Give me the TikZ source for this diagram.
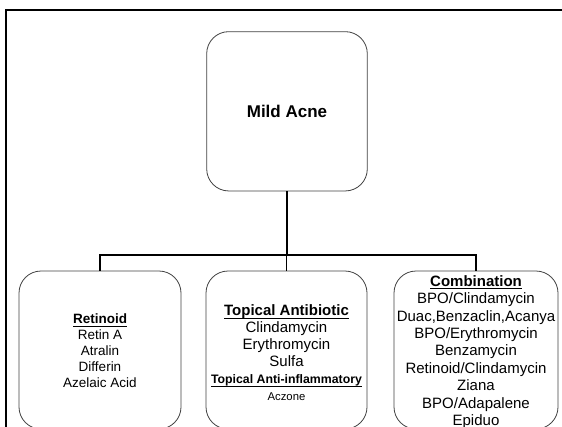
\documentclass[tikz,border=0pt]{standalone}
\usepackage{fontspec}
\setmainfont{Liberation Sans}
\newsavebox\ulbox
\newcommand\myul[1]{\sbox\ulbox{#1}\rlap{\rule[-2.6pt]{\wd\ulbox}{0.9pt}}\usebox\ulbox}
\newcommand\fs[2]{\fontsize{#1}{#2}\selectfont}
\tikzset{
  boxstyle/.style={draw=black!75, line width=0.8pt, rounded corners=22pt,
    inner sep=0pt},
  topbox/.style={boxstyle, minimum width=160.6pt, minimum height=159.3pt},
  lowbox/.style={boxstyle, minimum height=158pt},
  txt/.style={inner sep=0pt, align=center},
  conn/.style={draw=black, line width=1.6pt},
  framestyle/.style={draw=black, line width=2pt}
}
\begin{document}
\begin{tikzpicture}[x=1pt,y=-1pt]
\useasboundingbox (0,0) rectangle (562,426);
\clip (0,0) rectangle (562,426);
\draw[framestyle] (6,430) -- (6,9.5) -- (566,9.5);
\node[topbox, font=\fs{17}{20}\bfseries] (top) at (287,111.3) {Mild Acne};
\node[lowbox, minimum width=162pt] (left) at (100,350) {};
\node[lowbox, minimum width=161pt] (mid) at (286.5,350) {};
\node[lowbox, minimum width=164pt] (right) at (476,350) {};
\node[txt, font=\fs{13.5}{16}] (lefttext) at ([yshift=-1pt]left.center)
  {\myul{\bfseries Retinoid}\\ Retin A\\ Atralin\\ Differin\\ Azelaic Acid};
\node[txt, font=\fs{15}{17}] (midtext) at ([yshift=-3pt]mid.center)
  {\myul{\bfseries Topical Antibiotic}\\ Clindamycin\\ Erythromycin\\ Sulfa\\
   {\fs{12.3}{17}\myul{\bfseries Topical Anti-inflammatory}}\\ {\fs{11.3}{17}Aczone}};
\node[txt, font=\fs{15}{17.4}] (righttext) at ([yshift=-2pt]right.center)
  {\myul{\bfseries Combination}\\ BPO/Clindamycin\\ Duac,Benzaclin,Acanya\\
   BPO/Erythromycin\\ Benzamycin\\ Retinoid/Clindamycin\\ Ziana\\ BPO/Adapalene\\ Epiduo};
\coordinate (bus) at (287,255);
\draw[conn] (top.south) -- (bus);
\draw[conn] (left.north) |- (bus) -| (right.north);
\draw[conn] (mid.north) -- (mid.north |- bus);
\end{tikzpicture}
\end{document}
